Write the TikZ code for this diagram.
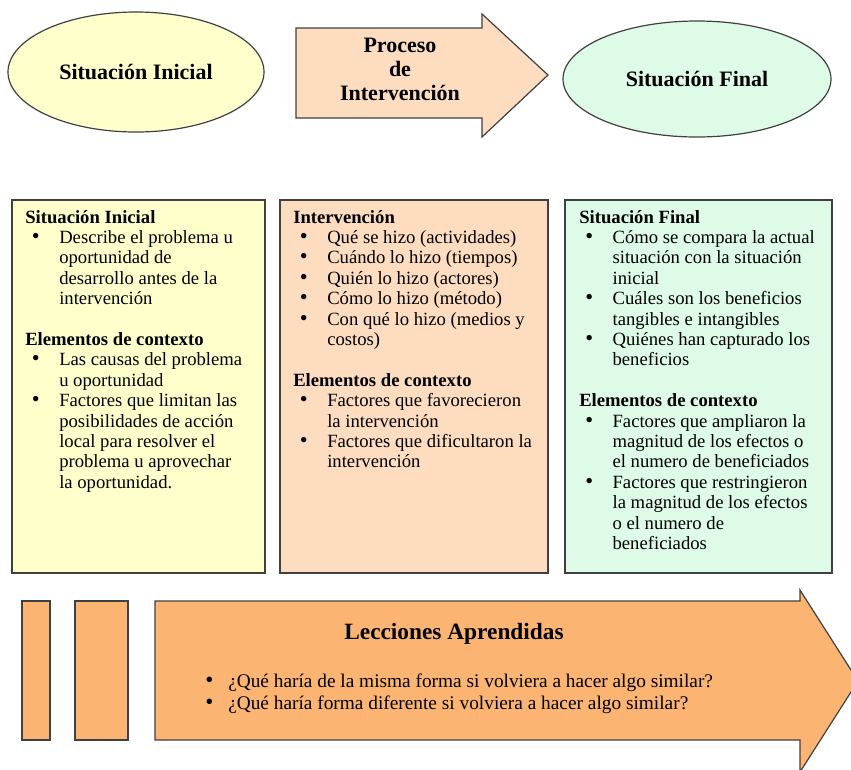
\documentclass[tikz,border=0pt]{standalone}
\usepackage{fontspec}
\setmainfont{Liberation Serif}
\usetikzlibrary{shapes.geometric,positioning}

\definecolor{linegray}{HTML}{404040}
\definecolor{inifill}{HTML}{FFFFCC}
\definecolor{intfill}{HTML}{FDDCBF}
\definecolor{finfill}{HTML}{DDFBE6}
\definecolor{lecfill}{HTML}{FBB471}

\newcommand{\boxhead}[1]{\multicolumn{2}{@{}l@{}}{\textbf{#1}}}
\newcommand{\dotmark}{\smash{\scalebox{1.2}{\textbullet}}}

\tikzset{
  shapeline/.style={draw=linegray, line width=0.9pt},
  boxtext/.style={anchor=base west, inner sep=0pt, font=\fontsize{14}{15.3}\selectfont},
  bigtitle/.style={font=\fontsize{16.5}{18}\selectfont\bfseries, align=center},
}

\begin{document}
\begin{tikzpicture}[x=0.75pt, y=-0.75pt]
    \useasboundingbox (0,0) rectangle (851,769);
    \clip (0,0) rectangle (851,769);

    % top row
    \node[shapeline, ellipse, fill=inifill, minimum width=192pt, minimum height=90pt, inner sep=0pt, bigtitle] (sitini) at (136,72) {Situación Inicial};
    \draw[shapeline, fill=intfill] (296,28) -- (482,28) -- (482,14) -- (548,75) -- (482,137) -- (482,118) -- (296,118) -- cycle;
    \node[bigtitle] (proceso) at (400,69) {Proceso\\de\\Intervención};
    \node[shapeline, ellipse, fill=finfill, minimum width=201pt, minimum height=87pt, inner sep=0pt, bigtitle] (sitfin) at (697,79) {Situación Final};

    % boxes
    \node[shapeline, rectangle, fill=inifill, minimum width=189.75pt, minimum height=279.75pt] (boxini) at (138.5,386.5) {};
    \node[shapeline, rectangle, fill=intfill, minimum width=201pt, minimum height=279.75pt] (boxint) at (414,386.5) {};
    \node[shapeline, rectangle, fill=finfill, minimum width=200.25pt, minimum height=279.75pt] (boxfin) at (698.5,386.5) {};

    \node[boxtext] (txtini) at (25,223) {\begin{tabular}[t]{@{\hspace{5pt}}p{20.5pt}@{}l@{}}
        \boxhead{Situación Inicial}\\
        \dotmark & Describe el problema u\\
         & oportunidad de\\
         & desarrollo antes de la\\
         & intervención\\
        \\
        \boxhead{Elementos de contexto}\\
        \dotmark & Las causas del problema\\
         & u oportunidad\\
        \dotmark & Factores que limitan las\\
         & posibilidades de acción\\
         & local para resolver el\\
         & problema u aprovechar\\
         & la oportunidad.
      \end{tabular}};
    \node[boxtext] (txtint) at (293,223) {\begin{tabular}[t]{@{\hspace{5pt}}p{20.5pt}@{}l@{}}
        \boxhead{Intervención}\\
        \dotmark & Qué se hizo (actividades)\\
        \dotmark & Cuándo lo hizo (tiempos)\\
        \dotmark & Quién lo hizo (actores)\\
        \dotmark & Cómo lo hizo (método)\\
        \dotmark & Con qué lo hizo (medios y\\
         & costos)\\
        \\
        \boxhead{Elementos de contexto}\\
        \dotmark & Factores que favorecieron\\
         & la intervención\\
        \dotmark & Factores que dificultaron la\\
         & intervención
      \end{tabular}};
    \node[boxtext] (txtfin) at (579,223) {\begin{tabular}[t]{@{\hspace{4.5pt}}p{20.5pt}@{}l@{}}
        \boxhead{Situación Final}\\
        \dotmark & Cómo se compara la actual\\
         & situación con la situación\\
         & inicial\\
        \dotmark & Cuáles son los beneficios\\
         & tangibles e intangibles\\
        \dotmark & Quiénes han capturado los\\
         & beneficios\\
        \\
        \boxhead{Elementos de contexto}\\
        \dotmark & Factores que ampliaron la\\
         & magnitud de los efectos o\\
         & el numero de beneficiados\\
        \dotmark & Factores que restringieron\\
         & la magnitud de los efectos\\
         & o el numero de\\
         & beneficiados
      \end{tabular}};

    % lessons learned
    \draw[shapeline, fill=lecfill] (22,601) rectangle (50,740);
    \draw[shapeline, fill=lecfill] (75,601) rectangle (128,740);
    \draw[shapeline, fill=lecfill] (155,601) -- (800,601) -- (800,590) -- (858,681) -- (800,772) -- (800,740) -- (155,740) -- cycle;
    \node[font=\fontsize{17.5}{20}\selectfont\bfseries] (lecciones) at (454,634) {Lecciones Aprendidas};
    \node[anchor=base west, inner sep=0pt, font=\fontsize{14.5}{16.5}\selectfont] (preguntas) at (205,687) {\begin{tabular}[t]{@{}p{17.25pt}@{}l@{}}
        \dotmark & ¿Qué haría de la misma forma si volviera a hacer algo similar?\\
        \dotmark & ¿Qué haría forma diferente si volviera a hacer algo similar?
      \end{tabular}};
\end{tikzpicture}
\end{document}
